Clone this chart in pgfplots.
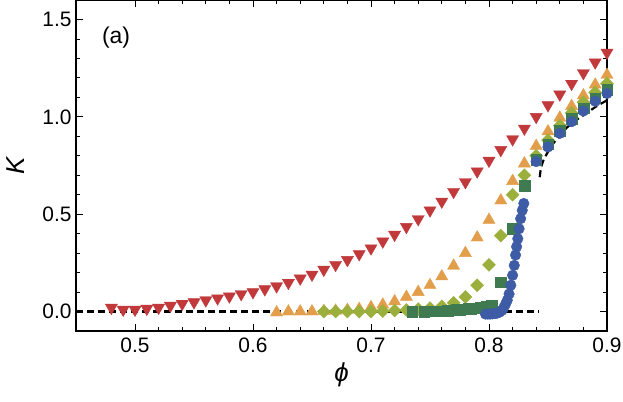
\documentclass[border=0pt]{standalone}
\usepackage{fontspec}
\setmainfont{Liberation Sans}
\usepackage{pgfplots}
\pgfplotsset{compat=1.18}
\definecolor{cred}{RGB}{193,57,59}
\definecolor{corange}{RGB}{226,158,74}
\definecolor{colive}{RGB}{155,176,60}
\definecolor{cgreen}{RGB}{63,122,80}
\definecolor{cblue}{RGB}{62,92,165}
\begin{document}
\begin{tikzpicture}
\begin{axis}[
    scale only axis,
    width=531bp, height=331bp,
    xmin=0.45, xmax=0.9,
    ymin=-0.1, ymax=1.6,
    xtick={0.5,0.6,0.7,0.8,0.9},
    ytick={0,0.5,1,1.5},
    minor x tick num=4,
    minor y tick num=4,
    tick align=inside,
    major tick length=7bp,
    minor tick length=4bp,
    tick style={black, line width=0.8bp},
    axis line style={line width=1.3bp},
    /pgf/number format/assume math mode=true,
    /pgf/number format/fixed,
    /pgf/number format/fixed zerofill,
    /pgf/number format/precision=1,
    ticklabel style={font=\fontsize{21}{24}\selectfont},
    xticklabel style={yshift=-3bp},
    yticklabel style={xshift=-1bp},
    xlabel={\itshape ϕ},
    ylabel={\itshape K},
    label style={font=\fontsize{26}{30}\selectfont},
    xlabel style={at={(axis description cs:0.5,-0.133)}, anchor=center},
    ylabel style={at={(axis description cs:-0.113,0.5)}, anchor=center},
    every axis plot/.append style={only marks},
]
% red, down triangles
\addplot[mark=triangle*, mark size=7bp, color=cred, mark options={rotate=180}] coordinates {
(0.48,0.02) (0.49,0.01) (0.50,0.01) (0.51,0.015) (0.52,0.02) (0.53,0.03)
(0.54,0.04) (0.55,0.048) (0.56,0.058) (0.57,0.068) (0.58,0.078) (0.59,0.09)
(0.60,0.10) (0.61,0.115) (0.62,0.13) (0.63,0.148) (0.64,0.17) (0.65,0.19)
(0.66,0.215) (0.67,0.24) (0.68,0.265) (0.69,0.295) (0.70,0.325) (0.71,0.36)
(0.72,0.395) (0.73,0.435) (0.74,0.475) (0.75,0.52) (0.76,0.565) (0.77,0.615)
(0.78,0.665) (0.79,0.72) (0.80,0.775) (0.81,0.83) (0.82,0.885) (0.83,0.94)
(0.84,1.0) (0.85,1.06) (0.86,1.115) (0.87,1.17) (0.88,1.225) (0.89,1.28) (0.90,1.33)
};
% orange, up triangles
\addplot[mark=triangle*, mark size=7bp, color=corange] coordinates {
(0.62,-0.005) (0.63,0.0) (0.64,0.0) (0.65,0.0) (0.66,0.002) (0.67,0.004)
(0.68,0.008) (0.69,0.013) (0.70,0.022) (0.71,0.035) (0.72,0.052) (0.73,0.075)
(0.74,0.10) (0.75,0.135) (0.76,0.18) (0.77,0.235) (0.78,0.30) (0.79,0.38)
(0.80,0.47) (0.81,0.57) (0.82,0.67) (0.83,0.76) (0.84,0.85) (0.85,0.925)
(0.86,0.995) (0.87,1.055) (0.88,1.11) (0.89,1.165) (0.90,1.215)
};
% olive, diamonds
\addplot[mark=square*, mark size=4.6bp, color=colive, mark options={rotate=45}] coordinates {
(0.66,0.0) (0.67,0.0) (0.68,0.0) (0.69,0.0) (0.70,0.0) (0.71,0.002)
(0.72,0.005) (0.73,0.008) (0.74,0.012) (0.75,0.017) (0.76,0.026) (0.77,0.045)
(0.78,0.075) (0.79,0.135) (0.80,0.24) (0.81,0.39) (0.82,0.60) (0.83,0.70)
(0.84,0.80) (0.85,0.88) (0.86,0.955) (0.87,1.02) (0.88,1.075) (0.89,1.125) (0.90,1.17)
};
% dark green, squares
\addplot[mark=square*, mark size=5.3bp, color=cgreen] coordinates {
(0.735,0.0) (0.745,0.0) (0.755,0.002) (0.765,0.005)
(0.77,0.007) (0.7725,0.008) (0.775,0.01) (0.7775,0.011) (0.78,0.012)
(0.7825,0.014) (0.785,0.015) (0.7875,0.017) (0.79,0.018) (0.7925,0.02)
(0.795,0.022) (0.7975,0.024) (0.80,0.027) (0.8025,0.031)
(0.81,0.15) (0.82,0.425) (0.83,0.645) (0.84,0.78) (0.85,0.86)
(0.86,0.93) (0.87,0.99) (0.88,1.045) (0.89,1.095) (0.90,1.14)
};
% blue, circles
\addplot[mark=*, mark size=5.3bp, color=cblue] coordinates {
(0.797,-0.013) (0.799,-0.013) (0.801,-0.013) (0.803,-0.012) (0.805,-0.011)
(0.807,-0.008) (0.809,-0.003) (0.811,0.006) (0.8125,0.02) (0.814,0.038)
(0.8155,0.058) (0.817,0.09) (0.8185,0.135) (0.820,0.186) (0.8214,0.237)
(0.8225,0.29) (0.8234,0.333) (0.8244,0.374) (0.8255,0.425) (0.8268,0.477)
(0.8282,0.52) (0.8295,0.555)
(0.84,0.77) (0.85,0.845) (0.86,0.915) (0.87,0.975) (0.88,1.03) (0.89,1.08) (0.90,1.12)
};
% dashed guide
\addplot[no marks, sharp plot, black, line width=2.2bp, dash pattern=on 7bp off 4bp] coordinates {
(0.45,0) (0.842,0)
};
\addplot[no marks, sharp plot, black, line width=2.2bp, dash pattern=on 7bp off 4bp] coordinates {
(0.843,0.69) (0.844,0.74) (0.846,0.775) (0.849,0.81) (0.854,0.86) (0.86,0.905)
(0.866,0.945) (0.872,0.975) (0.878,1.0) (0.884,1.025) (0.89,1.05)
(0.895,1.068) (0.90,1.085)
};
\node[font=\fontsize{23}{27}\selectfont] at (axis cs:0.484,1.405) {(a)};
\end{axis}
\pgfresetboundingbox
\path (-76bp,-71bp) rectangle (547bp,331bp);
\end{tikzpicture}
\end{document}
